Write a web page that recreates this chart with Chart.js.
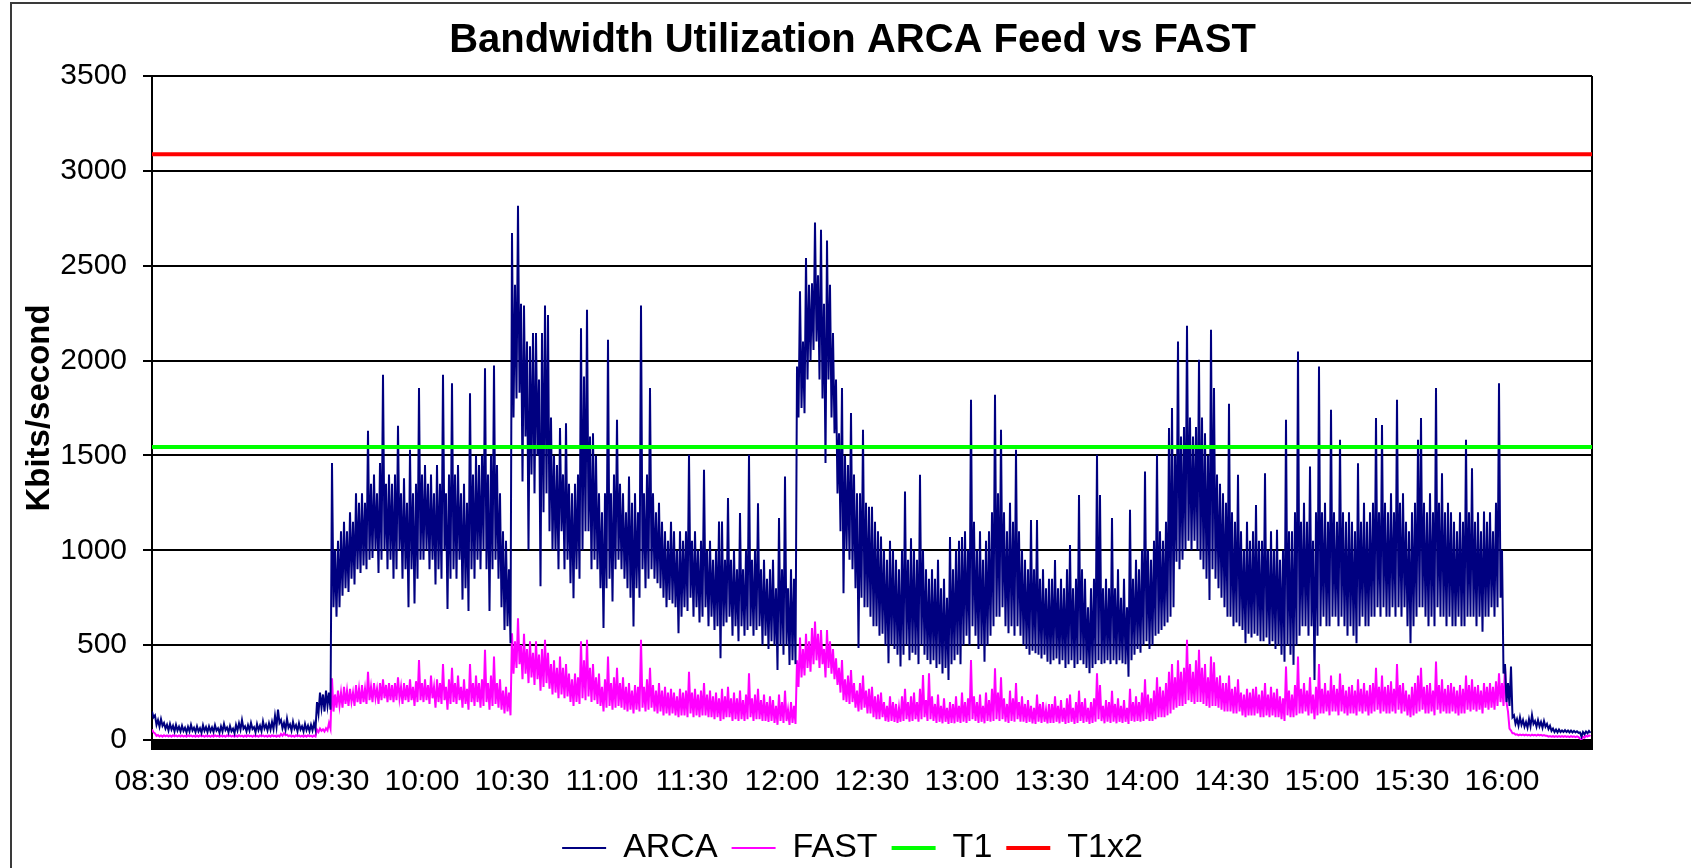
<!DOCTYPE html>
<html>
<head>
<meta charset="utf-8">
<script src="https://cdn.jsdelivr.net/npm/chart.js@4.4.1/dist/chart.umd.min.js"></script>
<style>
  html, body { margin: 0; padding: 0; background: #fff; }
  body { position: relative; width: 1691px; height: 868px; overflow: hidden; }
  #frame { position: absolute; left: 10px; top: 2px; width: 1800px; height: 1000px;
           border-top: 2px solid #3a3a3a; border-left: 2px solid #3a3a3a; }
  #c { position: absolute; left: 0; top: 0; }
</style>
</head>
<body>
<div id="frame"></div>
<canvas id="c" width="1691" height="875"></canvas>
<script>
// ---- tick labels (every 30 minutes from 08:30) ----
const timeTicks = ['08:30','09:00','09:30','10:00','10:30','11:00','11:30','12:00',
                   '12:30','13:00','13:30','14:00','14:30','15:00','15:30','16:00'];

// ---- ARCA feed (Kbits/second): per minute from 08:30, upper and lower reading ----
const arcaHigh = [
  150, 130, 105, 110, 90, 80, 85, 75, 80, 70,
  75, 65, 70, 80, 65, 72, 62, 78, 68, 72,
  66, 78, 62, 72, 85, 66, 74, 60, 80, 88,
  105, 72, 78, 90, 68, 84, 75, 98, 80, 88,
  95, 128, 160, 105, 90, 112, 82, 96, 78, 88,
  72, 85, 75, 80, 88, 200, 250, 240, 260, 250,
  1460, 1000, 1050, 1100, 1150, 1100, 1200, 1150, 1300, 1250,
  1300, 1250, 1630, 1350, 1400, 1300, 1460, 1925, 1350, 1400,
  1350, 1400, 1656, 1300, 1380, 1250, 1530, 1300, 1350, 1855,
  1400, 1450, 1350, 1400, 1300, 1450, 1350, 1925, 1300, 1400,
  1881, 1400, 1450, 1300, 1350, 1250, 1828, 1400, 1500, 1450,
  1500, 1960, 1400, 1500, 1974, 1450, 1300, 1100, 1050, 900,
  2672, 2400, 2816, 2300, 2290, 2100, 2075, 2145, 2145, 1900,
  2145, 2290, 2240, 1700, 1500, 1450, 1644, 1400, 1670, 1350,
  1300, 1350, 1400, 2170, 1916, 2268, 1600, 1617, 1500, 1300,
  1200, 1300, 2110, 1300, 1400, 1688, 1350, 1300, 1200, 1389,
  1250, 1300, 1200, 2290, 1300, 1400, 1855, 1300, 1200, 1250,
  1150, 1100, 1050, 1150, 1100, 1000, 1100, 1050, 1100, 1503,
  1050, 1100, 1000, 1050, 1424, 1000, 1050, 950, 1000, 1152,
  1152, 950, 1275, 950, 1000, 900, 1196, 900, 1000, 1503,
  950, 1000, 1248, 900, 950, 850, 900, 950, 800, 1170,
  900, 1389, 800, 900, 850, 1969, 2365, 2100, 2540, 2400,
  2408, 2728, 2450, 2690, 2300, 2633, 2400, 2145, 1900, 1617,
  1855, 1500, 1450, 1723, 1400, 1300, 1300, 1635, 1250, 1230,
  1230, 1150, 1100, 1072, 1000, 950, 1050, 1000, 950, 900,
  1000, 1310, 950, 1063, 1000, 950, 1398, 1000, 900, 850,
  900, 850, 950, 800, 850, 750, 1070, 900, 1000, 1050,
  1070, 1100, 1000, 1793, 1150, 1000, 1100, 950, 1050, 1100,
  1200, 1820, 1300, 1635, 1200, 1100, 1250, 1150, 1530, 1100,
  1000, 950, 900, 1160, 900, 1160, 850, 900, 800, 850,
  850, 949, 800, 850, 800, 900, 1028, 800, 850, 1292,
  900, 850, 700, 800, 850, 1503, 1292, 800, 850, 800,
  1170, 800, 900, 750, 850, 700, 1213, 850, 950, 900,
  1000, 1415, 1000, 950, 1050, 1503, 1100, 1050, 1150, 1644,
  1750, 1500, 2101, 1600, 1650, 2184, 1700, 1600, 1650, 2004,
  1700, 1617, 1500, 2163, 1855, 1400, 1350, 1300, 1250, 1772,
  1200, 1150, 1398, 1100, 1000, 1150, 1050, 1100, 1239, 1050,
  1050, 1406, 1000, 1100, 1000, 1108, 950, 1000, 1688, 1100,
  1100, 1200, 2048, 1150, 1250, 1150, 1442, 1050, 1200, 1969,
  1200, 1250, 1150, 1741, 1200, 1150, 1582, 1200, 1150, 1200,
  1150, 1100, 1459, 1150, 1250, 1150, 1200, 1250, 1697, 1200,
  1660, 1250, 1200, 1300, 1200, 1793, 1250, 1300, 1150, 1100,
  1200, 1250, 1582, 1697, 1250, 1200, 1300, 1200, 1855, 1250,
  1406, 1200, 1250, 1200, 1150, 1100, 1200, 1150, 1582, 1200,
  1433, 1150, 1200, 1100, 1204, 1150, 1200, 1100, 1250, 1881,
  1000, 400, 300, 387, 130, 110, 120, 105, 95, 110,
  132, 100, 105, 95, 100, 85, 75, 60, 55, 55,
  50, 52, 50, 50, 48, 46, 40, 42, 45, 48
];
const arcaLow = [
  120, 80, 70, 75, 60, 50, 55, 45, 50, 45,
  48, 40, 45, 50, 42, 45, 38, 48, 42, 46,
  42, 50, 38, 45, 52, 40, 46, 36, 50, 55,
  60, 45, 50, 58, 40, 52, 46, 60, 50, 55,
  58, 70, 90, 62, 55, 65, 50, 60, 46, 55,
  45, 52, 46, 50, 55, 140, 170, 150, 180, 160,
  700, 650, 700, 760, 800, 780, 850, 820, 900, 880,
  920, 900, 950, 960, 1000, 880, 950, 1000, 900, 950,
  850, 900, 1000, 850, 900, 700, 900, 720, 850, 950,
  950, 1000, 900, 950, 820, 900, 850, 1000, 690, 850,
  900, 850, 950, 740, 800, 680, 900, 850, 950, 900,
  1000, 900, 680, 900, 950, 850, 700, 580, 600, 510,
  1700, 1800, 1830, 1362, 1600, 1000, 1400, 1300, 1500, 810,
  1200, 1300, 1100, 1000, 1000, 900, 1100, 900, 950, 826,
  747, 900, 850, 1000, 1100, 1100, 900, 950, 900, 800,
  590, 800, 850, 730, 900, 950, 900, 850, 800, 750,
  598, 800, 750, 900, 800, 850, 900, 850, 826, 800,
  750, 700, 738, 720, 700, 563, 650, 700, 680, 750,
  650, 700, 620, 650, 700, 600, 650, 580, 600, 431,
  600, 620, 650, 550, 600, 520, 600, 550, 580, 600,
  550, 580, 600, 500, 550, 480, 520, 500, 369, 500,
  450, 500, 396, 420, 400, 1700, 1750, 1723, 1900, 2000,
  2056, 2100, 1900, 1800, 1460, 1900, 1700, 1617, 1300, 1100,
  773, 1000, 950, 900, 800, 485, 750, 700, 700, 650,
  600, 600, 550, 560, 500, 404, 500, 480, 450, 387,
  450, 500, 420, 460, 450, 400, 500, 450, 422, 400,
  420, 380, 400, 350, 380, 316, 400, 420, 450, 400,
  500, 550, 500, 600, 550, 480, 500, 413, 500, 550,
  600, 650, 650, 700, 600, 563, 600, 550, 600, 550,
  500, 480, 450, 470, 457, 450, 430, 450, 413, 400,
  420, 430, 400, 420, 380, 400, 420, 380, 400, 420,
  400, 380, 352, 380, 400, 420, 400, 404, 420, 400,
  420, 400, 420, 404, 400, 334, 420, 450, 480, 460,
  500, 520, 480, 500, 550, 560, 580, 600, 620, 650,
  700, 940, 900, 950, 1000, 1050, 1000, 1050, 1000, 950,
  900, 850, 738, 900, 850, 800, 750, 700, 650, 650,
  600, 620, 600, 580, 510, 560, 540, 560, 550, 520,
  520, 540, 500, 520, 480, 500, 450, 413, 500, 450,
  396, 500, 550, 600, 600, 550, 600, 316, 550, 600,
  650, 600, 600, 650, 650, 600, 650, 600, 550, 600,
  550, 510, 600, 650, 600, 600, 650, 650, 700, 650,
  700, 650, 650, 700, 650, 700, 650, 700, 600, 510,
  600, 650, 700, 700, 650, 600, 650, 600, 700, 650,
  650, 600, 650, 600, 600, 650, 600, 600, 650, 650,
  650, 600, 650, 571, 650, 650, 700, 650, 700, 750,
  350, 200, 180, 120, 85, 75, 80, 70, 65, 72,
  85, 70, 72, 65, 70, 58, 48, 42, 40, 42,
  42, 42, 40, 40, 40, 38, 18, 30, 35, 38
];

// ---- FAST feed (Kbits/second): per minute from 08:30, upper and lower reading ----
const fastHigh = [
  55, 35, 26, 24, 25, 24, 24, 25, 24, 24,
  24, 23, 25, 24, 23, 24, 25, 23, 24, 23,
  24, 25, 23, 24, 23, 25, 24, 23, 24, 25,
  23, 24, 25, 23, 24, 23, 25, 24, 23, 24,
  25, 23, 24, 32, 35, 28, 24, 23, 25, 24,
  23, 24, 25, 23, 24, 55, 60, 56, 62, 90,
  325, 240, 260, 250, 280, 260, 270, 250, 290, 270,
  290, 270, 360, 280, 300, 270, 300, 320, 290, 300,
  290, 300, 330, 280, 300, 290, 320, 280, 310, 422,
  300, 320, 290, 340, 280, 320, 300, 400, 280, 320,
  380, 300, 340, 280, 320, 270, 400, 300, 340, 300,
  320, 475, 300, 340, 440, 300, 320, 260, 280, 250,
  563, 520, 642, 500, 560, 480, 520, 460, 520, 450,
  480, 528, 460, 400, 420, 380, 440, 380, 400, 350,
  320, 350, 330, 520, 420, 528, 380, 400, 330, 350,
  280, 320, 440, 300, 330, 380, 300, 330, 280, 300,
  260, 290, 280, 528, 280, 320, 380, 290, 260, 300,
  260, 280, 250, 270, 250, 230, 270, 250, 260, 360,
  250, 270, 240, 260, 300, 240, 260, 230, 250, 220,
  270, 230, 280, 220, 250, 220, 260, 210, 240, 352,
  220, 240, 270, 210, 240, 200, 230, 210, 180, 240,
  200, 260, 160, 200, 180, 420, 540, 480, 560, 520,
  590, 624, 560, 580, 480, 580, 520, 480, 430, 380,
  422, 320, 340, 369, 300, 260, 300, 340, 260, 270,
  280, 230, 240, 250, 200, 180, 230, 200, 190, 170,
  230, 270, 200, 230, 250, 200, 270, 343, 210, 352,
  230, 190, 240, 180, 220, 170, 200, 190, 230, 180,
  250, 200, 220, 422, 230, 200, 240, 180, 250, 210,
  270, 378, 250, 330, 220, 190, 260, 220, 300, 200,
  230, 190, 210, 180, 170, 240, 190, 200, 160, 190,
  190, 230, 180, 210, 170, 220, 240, 170, 200, 260,
  200, 220, 170, 200, 220, 352, 290, 180, 210, 200,
  260, 190, 220, 180, 210, 170, 270, 200, 230, 200,
  250, 320, 240, 220, 260, 330, 280, 260, 300, 360,
  400, 330, 420, 360, 380, 528, 400, 360, 420, 475,
  380, 400, 330, 440, 410, 330, 340, 300, 300, 340,
  270, 280, 320, 250, 240, 270, 250, 270, 280, 240,
  260, 300, 240, 280, 250, 270, 230, 220, 387, 260,
  240, 290, 440, 270, 300, 260, 330, 240, 280, 400,
  270, 300, 260, 340, 290, 270, 350, 290, 260, 280,
  290, 260, 320, 270, 300, 260, 290, 300, 380, 280,
  340, 280, 290, 310, 270, 400, 290, 300, 260, 240,
  280, 300, 340, 380, 280, 290, 300, 260, 413, 290,
  320, 270, 290, 300, 280, 260, 290, 270, 340, 290,
  320, 280, 290, 260, 300, 280, 300, 280, 310, 352,
  300, 387, 150, 50, 35, 30, 29, 28, 28, 27,
  28, 27, 28, 27, 26, 22, 21, 20, 20, 20,
  20, 20, 19, 20, 19, 19, 8, 17, 22, 24
];
const fastLow = [
  40, 22, 19, 18, 19, 18, 18, 19, 18, 18,
  18, 17, 19, 18, 17, 18, 19, 17, 18, 17,
  18, 19, 17, 18, 17, 19, 18, 17, 18, 19,
  17, 18, 19, 17, 18, 17, 19, 18, 17, 18,
  19, 17, 18, 22, 25, 20, 18, 17, 19, 18,
  17, 18, 19, 17, 18, 42, 48, 45, 50, 60,
  150, 170, 180, 170, 190, 180, 200, 180, 200, 190,
  200, 190, 210, 200, 220, 190, 210, 220, 200, 210,
  200, 210, 220, 190, 210, 200, 210, 180, 200, 210,
  200, 210, 190, 220, 170, 200, 190, 210, 160, 190,
  200, 190, 210, 170, 190, 160, 200, 180, 200, 170,
  180, 200, 160, 180, 190, 170, 160, 140, 150, 130,
  350, 380, 400, 320, 350, 300, 330, 290, 320, 260,
  280, 300, 270, 240, 250, 220, 240, 220, 230, 200,
  180, 200, 190, 220, 210, 230, 200, 210, 190, 180,
  150, 170, 180, 160, 170, 180, 170, 160, 150, 160,
  140, 160, 150, 170, 150, 160, 170, 150, 140, 150,
  130, 140, 130, 140, 130, 120, 130, 130, 120, 140,
  120, 130, 120, 130, 130, 120, 120, 110, 120, 100,
  110, 120, 120, 100, 110, 100, 110, 100, 110, 120,
  100, 110, 110, 100, 100, 95, 100, 90, 80, 100,
  90, 100, 80, 90, 85, 280, 330, 340, 380, 360,
  400, 420, 380, 400, 330, 380, 350, 320, 290, 250,
  210, 200, 190, 200, 170, 150, 160, 170, 140, 140,
  120, 110, 110, 120, 100, 96, 100, 95, 90, 96,
  100, 110, 96, 100, 110, 96, 110, 120, 100, 110,
  100, 90, 96, 88, 96, 85, 90, 88, 96, 90,
  96, 90, 100, 110, 100, 90, 96, 88, 100, 96,
  100, 110, 100, 110, 96, 90, 100, 96, 110, 96,
  96, 90, 96, 88, 85, 96, 90, 96, 88, 90,
  90, 96, 88, 96, 85, 90, 96, 85, 90, 100,
  90, 96, 85, 90, 96, 110, 100, 88, 96, 90,
  96, 88, 96, 90, 96, 85, 100, 96, 100, 96,
  100, 110, 100, 100, 110, 120, 120, 120, 130, 140,
  160, 170, 180, 180, 190, 210, 200, 190, 200, 200,
  190, 180, 170, 180, 180, 170, 160, 150, 150, 150,
  140, 140, 150, 130, 120, 130, 130, 130, 140, 120,
  120, 130, 120, 130, 120, 120, 110, 100, 130, 120,
  120, 130, 140, 140, 150, 130, 140, 110, 130, 140,
  140, 150, 130, 150, 150, 130, 150, 140, 130, 140,
  140, 130, 150, 140, 150, 130, 140, 150, 160, 140,
  150, 140, 140, 150, 140, 160, 140, 150, 130, 120,
  130, 140, 150, 160, 140, 140, 150, 130, 160, 140,
  150, 140, 140, 150, 140, 130, 140, 140, 160, 150,
  160, 150, 160, 140, 170, 160, 170, 160, 180, 200,
  180, 200, 60, 35, 28, 25, 25, 24, 24, 23,
  24, 23, 24, 23, 22, 18, 17, 16, 16, 16,
  16, 16, 15, 16, 15, 15, 3, 12, 18, 20
];

// ---- reference levels ----
const t1Level = [1544, 1544];      // T1
const t1x2Level = [3088, 3088];    // 2 x T1
const levelX = [0, 480];           // span of the session (minutes after 08:30)

const FONT = "'Liberation Sans', Arial, Helvetica, sans-serif";
Chart.defaults.font.family = FONT;
Chart.defaults.color = '#000';

// each minute is drawn as its upper reading followed by its lower reading
const toPts = (hi, lo) => {
  const pts = [];
  hi.forEach((v, i) => { pts.push({ x: i, y: v }); pts.push({ x: i + 0.5, y: lo[i] }); });
  return pts;
};
const levelPts = arr => arr.map((v, i) => ({ x: levelX[i], y: v }));

const axisBand = {
  id: 'axisBand',
  afterDraw(chart) {
    const { ctx, chartArea: a } = chart;
    ctx.save();
    ctx.fillStyle = '#000';
    ctx.fillRect(a.left - 1, a.bottom, a.right - a.left + 2, 10);
    ctx.restore();
  }
};

new Chart(document.getElementById('c'), {
  type: 'line',
  data: {
    datasets: [
      { label: 'ARCA', data: toPts(arcaHigh, arcaLow), borderColor: '#000080', backgroundColor: '#000080',
        borderWidth: 2, pointRadius: 0, tension: 0, order: 1 },
      { label: 'FAST', data: toPts(fastHigh, fastLow), borderColor: '#FF00FF', backgroundColor: '#FF00FF',
        borderWidth: 2, pointRadius: 0, tension: 0, order: 2 },
      { label: 'T1', data: levelPts(t1Level), borderColor: '#00FF00', backgroundColor: '#00FF00',
        borderWidth: 4, pointRadius: 0, order: 0 },
      { label: 'T1x2', data: levelPts(t1x2Level), borderColor: '#FF0000', backgroundColor: '#FF0000',
        borderWidth: 4, pointRadius: 0, order: 0 }
    ]
  },
  options: {
    responsive: false,
    animation: false,
    devicePixelRatio: 1,
    layout: { padding: { left: 14, right: 0, top: 0, bottom: 0 } },
    plugins: {
      title: {
        display: true,
        text: 'Bandwidth Utilization ARCA Feed vs FAST',
        color: '#000',
        font: { size: 40, weight: 'bold', family: FONT },
        padding: { top: 17, bottom: 11 }
      },
      legend: {
        position: 'bottom',
        labels: {
          usePointStyle: true,
          pointStyle: 'line',
          pointStyleWidth: 44,
          padding: 14,
          color: '#000',
          font: { size: 34, family: FONT },
          sort: (a, b) => a.datasetIndex - b.datasetIndex
        }
      },
      tooltip: { enabled: false }
    },
    scales: {
      x: {
        type: 'linear',
        min: 0,
        max: 480,
        afterFit(s) { s.height = 77; },
        ticks: {
          stepSize: 30,
          autoSkip: false,
          maxRotation: 0,
          padding: 14,
          color: '#000',
          font: { size: 30, family: FONT },
          callback: v => (timeTicks[v / 30] !== undefined ? timeTicks[v / 30] : '')
        },
        grid: {
          display: true,
          color: c => (c.tick && c.tick.value === 480 ? '#000' : 'rgba(0,0,0,0)'),
          lineWidth: 2,
          tickLength: 10,
          tickColor: '#000'
        },
        border: { display: true, color: '#000', width: 2 }
      },
      y: {
        min: 0,
        max: 3500,
        afterFit(s) { s.width = 152 - 14; },
        ticks: {
          stepSize: 500,
          padding: 16,
          color: '#000',
          font: { size: 30, family: FONT },
          callback: v => String(v)
        },
        grid: { color: '#000', lineWidth: 2, tickLength: 9, tickColor: '#000' },
        border: { display: true, color: '#000', width: 2 },
        title: {
          display: true,
          text: 'Kbits/second',
          color: '#000',
          font: { size: 33, weight: 'bold', family: FONT },
          padding: { top: 6, bottom: 0 }
        }
      },
      yRight: {
        position: 'right',
        display: true,
        afterFit(s) { s.width = 99; },
        grid: { display: false },
        border: { display: false },
        ticks: { display: false }
      }
    }
  },
  plugins: [axisBand]
});
</script>
</body>
</html>
